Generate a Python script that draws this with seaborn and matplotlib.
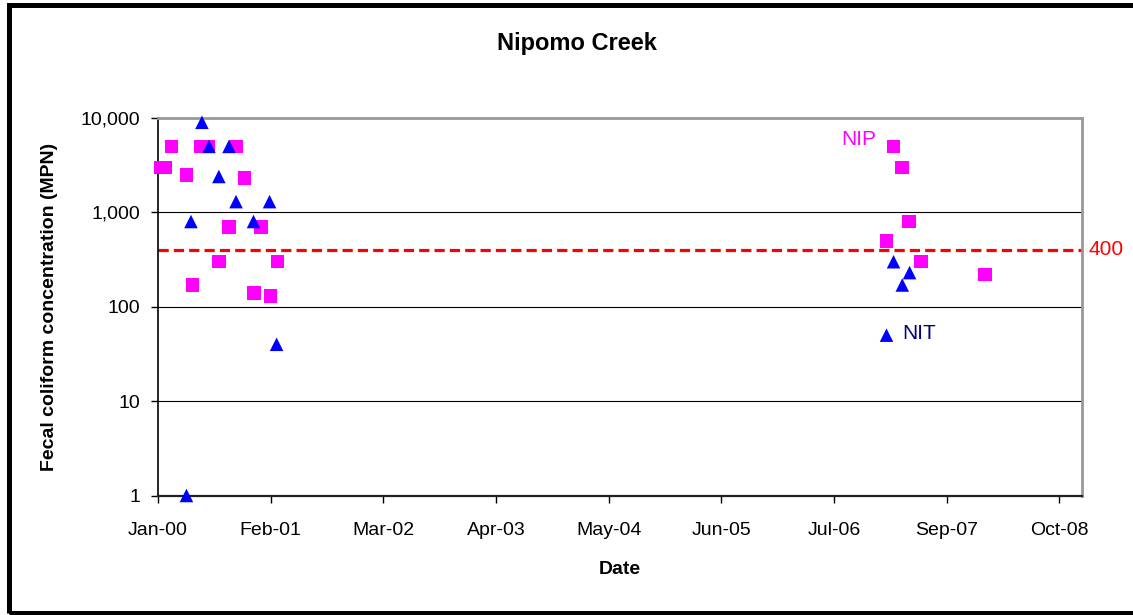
import matplotlib
matplotlib.use("Agg")
import matplotlib.dates as mdates
import matplotlib.pyplot as plt
import pandas as pd
import seaborn as sns
from matplotlib.patches import Rectangle
from matplotlib.ticker import NullLocator

# sampling dates and fecal coliform results (MPN)
nip_dates = ["2000-01-10", "2000-01-28", "2000-02-18", "2000-04-11", "2000-05-02",
             "2000-06-01", "2000-06-26", "2000-08-04", "2000-09-09", "2000-10-03",
             "2000-11-03", "2000-12-06", "2001-01-01", "2001-02-03", "2001-02-28",
             "2007-01-30", "2007-02-24", "2007-03-26", "2007-04-20", "2007-06-01",
             "2008-01-15"]
nip_mpn = [3000, 3000, 5000, 2500, 170,
           5000, 5000, 300, 700, 5000,
           2300, 140, 700, 130, 300,
           500, 5000, 3000, 800, 300,
           220]

nit_dates = ["2000-04-11", "2000-04-27", "2000-06-05", "2000-06-30", "2000-08-04",
             "2000-09-09", "2000-10-04", "2000-12-05", "2001-01-31", "2001-02-25",
             "2007-01-30", "2007-02-24", "2007-03-27", "2007-04-22"]
nit_mpn = [1, 800, 9000, 5000, 2400,
           5000, 1300, 800, 1300, 40,
           50, 300, 170, 230]

threshold = 400
y_ticks = [1, 10, 100, 1000, 10000]
y_labels = ["1", "10", "100", "1,000", "10,000"]
x_start = pd.Timestamp("2000-01-01")
x_ticks = pd.date_range(x_start, periods=9, freq="400D")

df = pd.concat([
    pd.DataFrame({"Date": pd.to_datetime(nip_dates), "MPN": nip_mpn, "Site": "NIP"}),
    pd.DataFrame({"Date": pd.to_datetime(nit_dates), "MPN": nit_mpn, "Site": "NIT"}),
], ignore_index=True)

sns.set_style("white")
plt.rcParams["font.family"] = ["Liberation Sans", "DejaVu Sans"]
plt.rcParams["text.color"] = "black"
plt.rcParams["axes.labelcolor"] = "black"
plt.rcParams["xtick.color"] = "black"
plt.rcParams["ytick.color"] = "black"

fig = plt.figure(figsize=(11.33, 6.15), dpi=100)
ax = fig.add_axes([158 / 1133, 1 - 495.5 / 615, (1082 - 158) / 1133, (495.5 - 118) / 615])

sns.scatterplot(data=df, x="Date", y="MPN", hue="Site", style="Site",
                palette={"NIP": "#ff00ff", "NIT": "#0000ff"},
                markers={"NIP": "s", "NIT": "^"}, s=95, linewidth=0,
                legend=False, ax=ax, clip_on=False, zorder=3)

ax.axhline(threshold, color="#ff0000", lw=2.3, linestyle=(0, (3.2, 1.6)), zorder=2)

ax.set_yscale("log")
ax.set_ylim(1, 10000)
ax.set_yticks(y_ticks)
ax.set_yticklabels(y_labels)
ax.yaxis.set_minor_locator(NullLocator())

ax.set_xlim(x_start, x_start + pd.Timedelta(days=3280))
ax.set_xticks(x_ticks)
ax.xaxis.set_major_formatter(mdates.DateFormatter("%b-%y"))

ax.grid(axis="y", color="black", lw=0.8)
ax.grid(axis="x", visible=False)
ax.set_axisbelow(True)

for side in ["top", "right"]:
    ax.spines[side].set_color("#999999")
    ax.spines[side].set_linewidth(2)
ax.spines["left"].set_color("black")
ax.spines["left"].set_linewidth(1.2)
ax.spines["bottom"].set_color("#222222")
ax.spines["bottom"].set_linewidth(1.6)

ax.tick_params(axis="both", which="major", direction="out", length=5, width=1,
               color="black", labelsize=14, bottom=True, left=True)
ax.tick_params(axis="x", pad=14)
ax.tick_params(axis="y", pad=8)

ax.set_xlabel("Date", fontsize=14, fontweight="bold", labelpad=16)
ax.set_ylabel("Fecal coliform concentration (MPN)", fontsize=14, fontweight="bold",
              labelpad=16)

# station labels and threshold label
ax.annotate("NIP", xy=(pd.Timestamp("2007-02-24"), 5000), xytext=(-25, 5),
            textcoords="offset points", ha="center", va="center",
            color="#ff00ff", fontsize=15)
ax.annotate("NIT", xy=(pd.Timestamp("2007-01-30"), 50), xytext=(11, 1),
            textcoords="offset points", ha="left", va="center",
            color="#000080", fontsize=15)
ax.annotate(str(threshold), xy=(1, threshold), xycoords=("axes fraction", "data"),
            xytext=(5, 0), textcoords="offset points", ha="left", va="center",
            color="#ff0000", fontsize=15, annotation_clip=False)

fig.text(577 / 1133, 1 - 50 / 615, "Nipomo Creek", ha="center", va="baseline",
         fontsize=17, fontweight="bold")

# chart frame (right edge falls outside the picture)
fig.add_artist(Rectangle((9.2 / 1133, 2.5 / 615), 1.02, (612.5 - 5.3) / 615 + 0.001,
                         transform=fig.transFigure, fill=False, edgecolor="black",
                         lw=3.6))

fig.savefig("out.png", dpi=100)
